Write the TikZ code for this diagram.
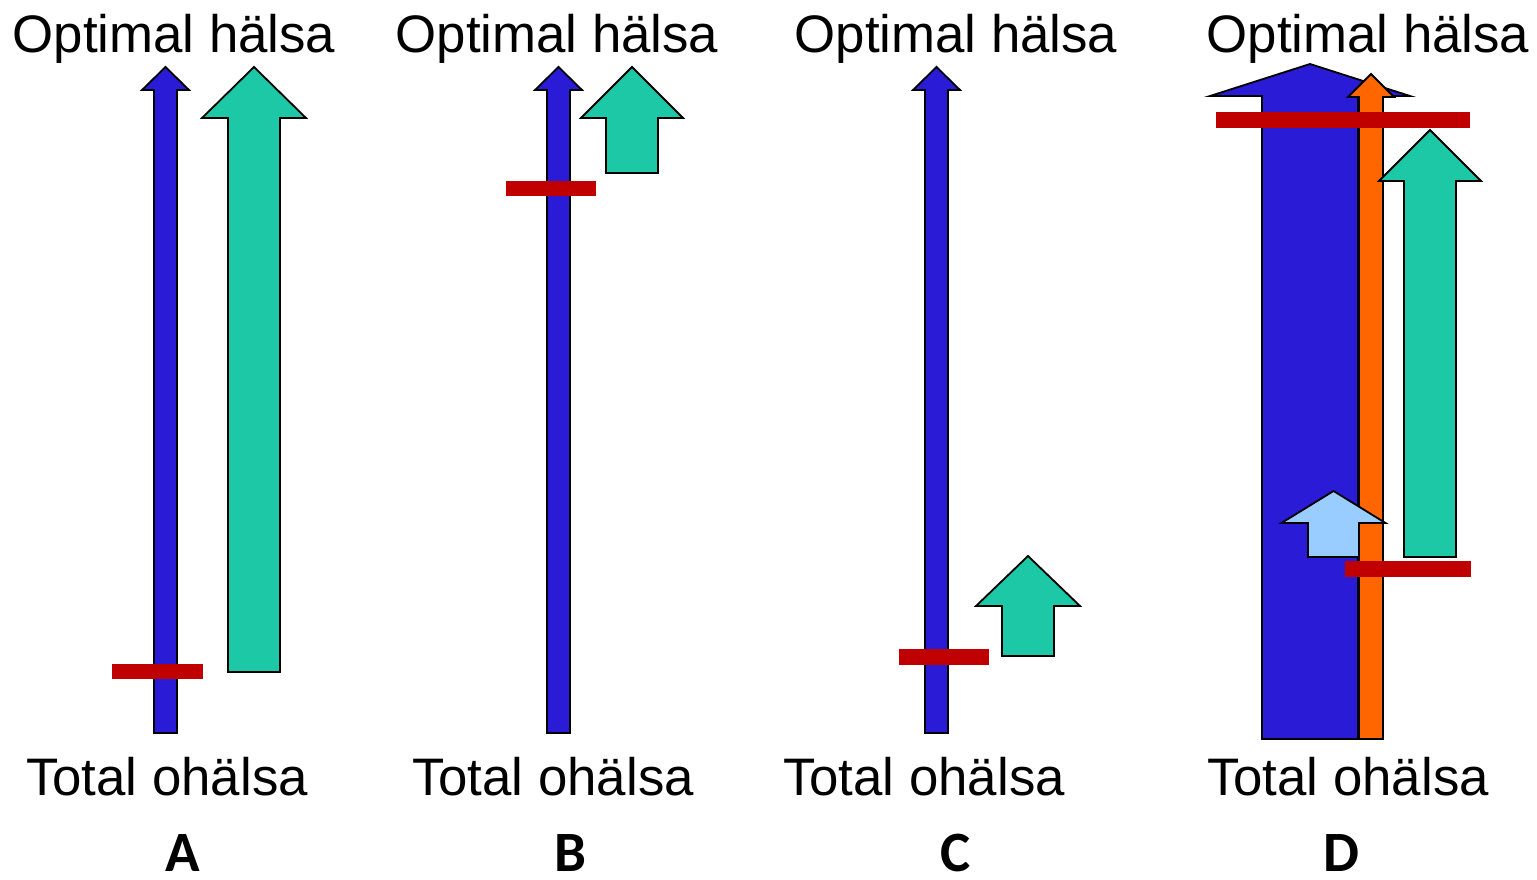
\documentclass[tikz,border=0pt]{standalone}
\usepackage{fontspec}
\setmainfont{Liberation Sans}
\newfontfamily\bokfont{Carlito}
\usetikzlibrary{backgrounds}
\definecolor{blaa}{RGB}{42,27,214}
\definecolor{gron}{RGB}{28,200,165}
\definecolor{rod}{RGB}{192,0,0}
\definecolor{orange}{RGB}{255,102,0}
\definecolor{ljusblaa}{RGB}{153,204,255}
% pil: fyllning, mitt x, halv skaftbredd, halv huvudbredd, spets y, huvudbas y, botten y
\newcommand{\pil}[7]{%
    \draw[pilkant, fill=#1] (#2-#3,#7) -- (#2-#3,#6) -- (#2-#4,#6) -- (#2,#5)
        -- (#2+#4,#6) -- (#2+#3,#6) -- (#2+#3,#7) -- cycle;}
\newcommand{\streck}[4]{\fill[rod] (#1,#2) rectangle (#3,#4);}

\begin{document}
\begin{tikzpicture}[%
    x=1pt, y=-1pt,%
    show background rectangle,%
    tight background,%
    background rectangle/.style={fill=white},%
    pilkant/.style={draw=black, line width=1.8pt, line join=miter},%
    rubrik/.style={anchor=base, inner sep=0pt, font=\fontsize{52.8}{60}\selectfont},%
    bokstav/.style={anchor=base, inner sep=0pt, font=\bokfont\fontsize{57}{60}\selectfont\bfseries}%
    ]
    \useasboundingbox (0,0) rectangle (1537,880);

    %
    % Definitioner
    %
    \pgfmathsetmacro{\yopt}{53};%
    \pgfmathsetmacro{\ytot}{795};%
    \pgfmathsetmacro{\ybok}{871};%

    % Rubriker uppe
    \node[rubrik] (optA) at (174,\yopt) {Optimal hälsa};
    \node[rubrik] (optB) at (557,\yopt) {Optimal hälsa};
    \node[rubrik] (optC) at (956,\yopt) {Optimal hälsa};
    \node[rubrik] (optD) at (1368,\yopt) {Optimal hälsa};

    % Rubriker nere
    \node[rubrik] (totA) at (167,\ytot) {Total ohälsa};
    \node[rubrik] (totB) at (553,\ytot) {Total ohälsa};
    \node[rubrik] (totC) at (924,\ytot) {Total ohälsa};
    \node[rubrik] (totD) at (1348,\ytot) {Total ohälsa};

    % Bokstäver
    \node[bokstav] (bokA) at (183,\ybok) {A};
    \node[bokstav] (bokB) at (570,\ybok) {B};
    \node[bokstav] (bokC) at (956,\ybok) {C};
    \node[bokstav] (bokD) at (1341,\ybok) {D};

    % A
    \pil{blaa}{165.5}{11.5}{23.5}{67}{90}{733}
    \pil{gron}{254}{26}{52}{67}{118}{672}
    \streck{112}{664}{203}{679}

    % B
    \pil{blaa}{558.5}{11.5}{23.5}{67}{90}{733}
    \pil{gron}{632}{26}{51}{67}{118}{173}
    \streck{506}{181}{596}{196}

    % C
    \pil{blaa}{936.5}{11.5}{23.5}{67}{90}{733}
    \pil{gron}{1028}{26}{52}{556}{606}{656}
    \streck{899}{649}{989}{665}

    % D
    \pil{blaa}{1310}{48}{100}{64}{96}{739}
    \pil{orange}{1371}{12}{23}{74}{97}{739}
    \streck{1216}{112}{1470}{128}
    \pil{gron}{1430}{26}{51}{130}{181}{557}
    \pil{ljusblaa}{1333.5}{25.5}{52}{491}{523}{557}
    \streck{1345}{561}{1471}{577}

\end{tikzpicture}
\end{document}
